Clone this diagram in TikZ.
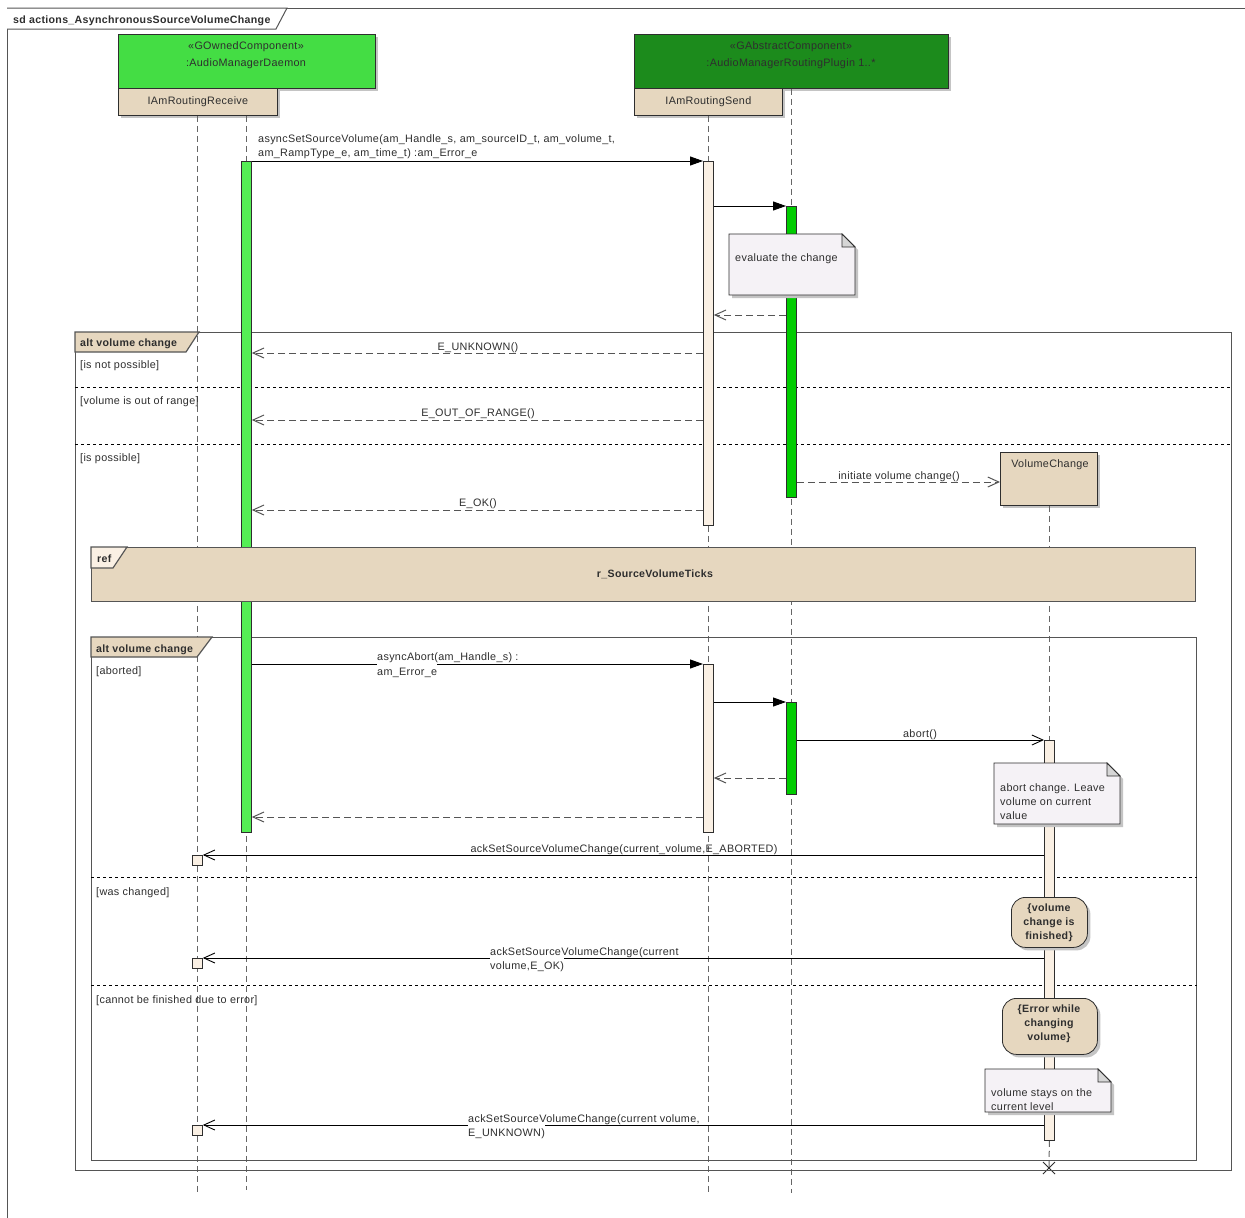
\documentclass[tikz,border=0pt]{standalone}
\usepackage{fontspec}
\setmainfont{Liberation Sans}[LetterSpace=3]
\usetikzlibrary{arrows.meta,shadows}
\definecolor{txt}{HTML}{2E2E2E}
\definecolor{frm}{HTML}{555555}
\definecolor{lifec}{HTML}{666666}
\definecolor{compA}{HTML}{44DD44}
\definecolor{compB}{HTML}{1C8B1C}
\definecolor{barA}{HTML}{55EE55}
\definecolor{barB}{HTML}{00CC00}
\definecolor{beige}{HTML}{E6D7BF}
\definecolor{pale}{HTML}{FAF0E4}
\definecolor{notec}{HTML}{F5F2F6}
\definecolor{foldc}{HTML}{D6D6D6}
\definecolor{shadc}{HTML}{C4C4C4}
\newcommand\fs{\fontsize{10.8}{14}\selectfont}
\newcommand\fb{\fontsize{10.6}{14}\selectfont\bfseries}
\newcommand\drawnote[4]{%
  \fill[shadc] ({#1+3},{#2+3}) -- ({#3+3-13},{#2+3}) -- ({#3+3},{#2+16}) -- ({#3+3},{#4+3}) -- ({#1+3},{#4+3}) -- cycle;
  \filldraw[fill=notec, draw=txt, line width=0.8pt] (#1,#2) -- ({#3-13},#2) -- (#3,{#2+13}) -- (#3,#4) -- (#1,#4) -- cycle;
  \filldraw[fill=foldc, draw=txt, line width=0.8pt] ({#3-13},#2) -- ({#3-13},{#2+13}) -- (#3,{#2+13}) -- cycle;}
\begin{document}
\begin{tikzpicture}[x=1pt,y=-1pt,
  lbl/.style={font=\fs, text=txt, inner sep=0pt, text height=7.8pt, text depth=0pt, yshift=-0.8pt},
  blbl/.style={font=\fb, text=txt, inner sep=0pt, text height=7.8pt, text depth=0pt, yshift=-0.8pt},
  mlbl/.style={font=\fs, text=txt, inner sep=0pt, align=left},
  cutlbl/.style={font=\fs, text=txt, inner sep=0pt, text height=12.5pt, text depth=0pt, fill=white, anchor=base west},
  shad/.style={drop shadow={shadow xshift=3pt,shadow yshift=-3pt,fill=shadc,opacity=1}},
  box/.style={draw=txt, line width=0.8pt, inner sep=0pt, anchor=north west},
  lifeline/.style={draw=lifec, line width=1pt, dash pattern=on 6pt off 4pt},
  actbar/.style={draw=txt, line width=0.8pt, inner sep=0pt, anchor=north west, minimum width=10pt},
  framebox/.style={draw=frm, line width=1.4pt, inner sep=0pt, anchor=north west},
  guardsep/.style={draw=black, line width=0.8pt, dash pattern=on 3pt off 3pt},
  sync/.style={draw=black, line width=0.9pt, -{Triangle[length=13pt,width=9pt]}},
  async/.style={draw=black, line width=0.9pt, -{Straight Barb[length=11pt,width=10pt]}},
  reply/.style={draw=frm, line width=1pt, dash pattern=on 7pt off 4pt, -{Straight Barb[length=11pt,width=10pt]}},
]
\useasboundingbox (0,0) rectangle (1245,1218);
\fill[white] (0,0) rectangle (1245,1218);

% outer sd frame
\draw[draw=frm, line width=1pt] (7,1222) -- (7,8) -- (1250,8);
\filldraw[fill=white, draw=frm, line width=1pt] (7,8) -- (287,8) -- (276,29) -- (7,29);
\node[blbl, anchor=west] (title) at (13,19) {sd actions\_AsynchronousSourceVolumeChange};

% y levels
\coordinate (bot) at (0,1193);
\coordinate (bot2) at (0,1190);
\foreach \n/\yy in {t161/161,t206/206,t315/315,t353/353,t420/420,t482/482,t510/510,
  t664/664,t702/702,t740/740,t778/778,t817/817,t855/855,t958/958,t1125/1125,
  s387/387,s444/444,s877/877,s985/985}
  \coordinate (\n) at (0,\yy);

% components
\node[box, fill=compA, shad, minimum width=257pt, minimum height=54pt] (daemon) at (118,34) {};
\node[lbl] (daemonSt) at (246,45) {«GOwnedComponent»};
\node[lbl] (daemonNm) at (246,62) {:AudioManagerDaemon};
\node[box, fill=beige, shad, minimum width=159pt, minimum height=27pt, font=\fs, text=txt] (recv) at (118,88) {IAmRoutingReceive};

\node[box, fill=compB, shad, minimum width=314pt, minimum height=54pt] (plugin) at (634,34) {};
\node[lbl] (pluginSt) at (791,45) {«GAbstractComponent»};
\node[lbl] (pluginNm) at (791,62) {:AudioManagerRoutingPlugin 1..*};
\node[box, fill=beige, shad, minimum width=148pt, minimum height=27pt, font=\fs, text=txt] (send) at (634,88) {IAmRoutingSend};

\node[box, fill=beige, shad, minimum width=97pt, minimum height=53pt] (vc) at (1000,452) {};
\node[lbl] (vcNm) at (1050,463) {VolumeChange};

% activation bars (placed first as nodes for names; drawn later)
\path node[actbar, minimum height=671pt] (dbar) at (241,161) {}
      node[actbar, minimum height=364pt] (sbar1) at (703,161) {}
      node[actbar, minimum height=291pt] (pbar1) at (786,206) {}
      node[actbar, minimum height=168pt] (sbar2) at (703,664) {}
      node[actbar, minimum height=92pt] (pbar2) at (786,702) {}
      node[actbar, minimum height=400pt] (vbar) at (1044,740) {};
\coordinate (xm) at (1049,1168);

% lifelines
\draw[lifeline] (recv.south) -- (recv.south |- bot);
\draw[lifeline] (dbar.north |- recv.south) -- (dbar.north |- bot2);
\draw[lifeline] (send.south) -- (send.south |- bot);
\draw[lifeline] (plugin.south) -- (plugin.south |- bot);
\draw[lifeline] (vc.south -| vbar.north) -- (vbar.north);
\draw[lifeline] (vbar.south) -- (xm);
\draw[txt, line width=0.8pt] ([shift={(-6,-6)}]xm) -- ([shift={(6,6)}]xm)
  ([shift={(-6,6)}]xm) -- ([shift={(6,-6)}]xm);

% combined fragments
\node[framebox, minimum width=1156pt, minimum height=838pt] (alt1) at (75,332) {};
\filldraw[fill=beige, draw=frm, line width=1.2pt] (75,332) -- (199,332) -- (186,352) -- (75,352) -- cycle;
\draw[guardsep] (alt1.west |- s387) -- (alt1.east |- s387);
\draw[guardsep] (alt1.west |- s444) -- (alt1.east |- s444);

\node[framebox, minimum width=1105pt, minimum height=523pt] (alt2) at (91,637) {};
\filldraw[fill=beige, draw=frm, line width=1.2pt] (91,637) -- (212,637) -- (197,657) -- (91,657) -- cycle;
\draw[guardsep] (alt2.west |- s877) -- (alt2.east |- s877);
\draw[guardsep] (alt2.west |- s985) -- (alt2.east |- s985);

% bars drawn
\foreach \b/\c in {dbar/barA,sbar1/pale,pbar1/barB,sbar2/pale,pbar2/barB,vbar/pale}
  \filldraw[fill=\c, draw=txt, line width=0.8pt] (\b.north west) rectangle (\b.south east);

% ref
\node[framebox, fill=beige, minimum width=1104pt, minimum height=54pt] (ref) at (91,547) {};
\filldraw[fill=pale, draw=frm, line width=1.2pt] (91,547) -- (127,547) -- (113,568) -- (91,568) -- cycle;
\node[blbl, anchor=west] (refT) at (97,558) {ref};
\node[blbl] (refNm) at (655,573) {r\_SourceVolumeTicks};

% fragment labels
\node[blbl, anchor=west] (alt1T) at (80,342) {alt volume change};
\node[lbl, anchor=west] (g1) at (80,364) {[is not possible]};
\node[lbl, anchor=west] (g2) at (80,400) {[volume is out of range]};
\node[lbl, anchor=west] (g3) at (80,457) {[is possible]};
\node[blbl, anchor=west] (alt2T) at (96,648) {alt volume change};
\node[lbl, anchor=west] (g4) at (96,670) {[aborted]};
\node[lbl, anchor=west] (g5) at (96,891) {[was changed]};
\node[lbl, anchor=west] (g6) at (96,999) {[cannot be finished due to error]};

% small reception squares
\node[box, fill=pale, minimum width=10pt, minimum height=10pt] (sq1) at (192,855) {};
\node[box, fill=pale, minimum width=10pt, minimum height=10pt] (sq2) at (192,958) {};
\node[box, fill=pale, minimum width=10pt, minimum height=10pt] (sq3) at (192,1125) {};

% messages
\draw[sync] (dbar.east |- t161) -- (sbar1.west |- t161);
\node[lbl, anchor=west] (m1a) at (258,138) {asyncSetSourceVolume(am\_Handle\_s, am\_sourceID\_t, am\_volume\_t,};
\node[lbl, anchor=west] (m1b) at (258,152) {am\_RampType\_e, am\_time\_t) :am\_Error\_e};
\draw[sync] (sbar1.east |- t206) -- (pbar1.west |- t206);
\draw[reply] (pbar1.west |- t315) -- (sbar1.east |- t315);
\draw[reply] (sbar1.west |- t353) -- (dbar.east |- t353);
\node[lbl] (m3) at (478,346) {E\_UNKNOWN()};
\draw[reply] (sbar1.west |- t420) -- (dbar.east |- t420);
\node[lbl] (m4) at (478,412) {E\_OUT\_OF\_RANGE()};
\draw[reply] (pbar1.east |- t482) -- (vc.west |- t482);
\node[lbl] (m5) at (899,475) {initiate volume change()};
\draw[reply] (sbar1.west |- t510) -- (dbar.east |- t510);
\node[lbl] (m6) at (478,502) {E\_OK()};

\draw[sync] (dbar.east |- t664) -- (sbar2.west |- t664);
\node[lbl, anchor=west] (m7a) at (377,656) {asyncAbort(am\_Handle\_s) :};
\node[cutlbl] (m7b) at (377,675.5) {am\_Error\_e};
\draw[sync] (sbar2.east |- t702) -- (pbar2.west |- t702);
\draw[async] (pbar2.east |- t740) -- (vbar.west |- t740);
\node[lbl] (m8) at (920,733) {abort()};
\draw[reply] (pbar2.west |- t778) -- (sbar2.east |- t778);
\draw[reply] (sbar2.west |- t817) -- (dbar.east |- t817);

\draw[async] (vbar.west |- t855) -- (sq1.north east);
\node[lbl] (m9) at (624,848) {ackSetSourceVolumeChange(current\_volume,E\_ABORTED)};
\draw[async] (vbar.west |- t958) -- (sq2.north east);
\node[lbl, anchor=west] (m10a) at (490,951) {ackSetSourceVolumeChange(current};
\node[cutlbl] (m10b) at (490,969.5) {volume,E\_OK)};
\draw[async] (vbar.west |- t1125) -- (sq3.north east);
\node[lbl, anchor=west] (m11a) at (468,1118) {ackSetSourceVolumeChange(current volume,};
\node[cutlbl] (m11b) at (468,1136.5) {E\_UNKNOWN)};

% notes
\drawnote{729}{234}{855}{295}
\node[lbl, anchor=west] (n1) at (735,257) {evaluate the change};
\drawnote{994}{763}{1120}{824}
\node[mlbl, anchor=west] (n2) at (1000,802) {abort change. Leave\\volume on current\\value};
\drawnote{985}{1069}{1111}{1112}
\node[mlbl, anchor=west] (n3) at (991,1100) {volume stays on the\\current level};

% state invariants
\node[box, fill=beige, shad, rounded corners=14pt, minimum width=76pt, minimum height=50pt] (st1) at (1011,897) {};
\node[font=\fb, text=txt, align=center, inner sep=0pt] (st1T) at (1049,923) {\{volume\\change is\\finished\}};
\node[box, fill=beige, shad, rounded corners=14pt, minimum width=95pt, minimum height=56pt] (st2) at (1002,998) {};
\node[font=\fb, text=txt, align=center, inner sep=0pt] (st2T) at (1049,1024) {\{Error while\\changing\\volume\}};
\end{tikzpicture}
\end{document}
